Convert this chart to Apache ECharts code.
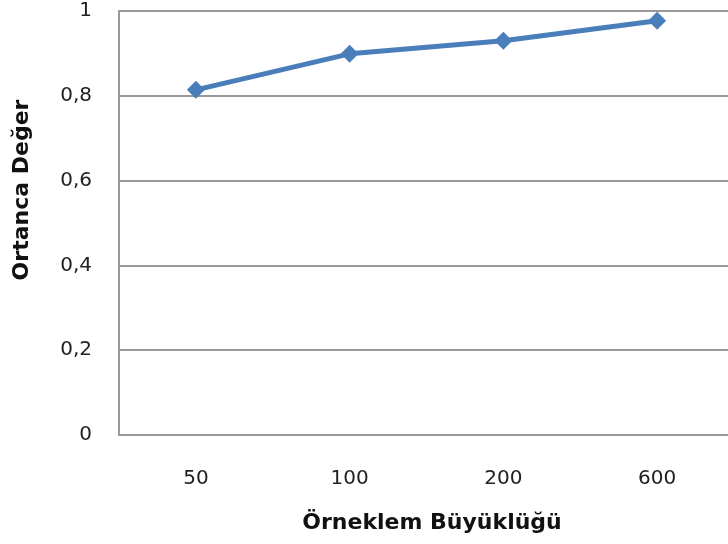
<!DOCTYPE html>
<html>
<head>
<meta charset="utf-8">
<script src="https://cdn.jsdelivr.net/npm/echarts@6/dist/echarts.min.js"></script>
<style>
  html, body { margin: 0; padding: 0; background: #fff; overflow: hidden; }
  #chart { width: 744px; height: 544px; }
</style>
</head>
<body>
<div id="chart"></div>
<script>
const sampleSizes = ["50", "100", "200", "600"];
const medianValues = [0.814, 0.899, 0.930, 0.977];

const myChart = echarts.init(document.getElementById('chart'));
const option = {
  animation: false,
  backgroundColor: '#fff',
  grid: {
    left: 119,
    top: 11,
    width: 615,
    height: 424,
    outerBoundsMode: 'none'
  },
  xAxis: {
    type: 'category',
    data: sampleSizes,
    name: 'Örneklem Büyüklüğü',
    nameLocation: 'middle',
    nameGap: 77,
    nameTextStyle: {
      fontFamily: 'DejaVu Sans',
      fontWeight: 'bold',
      fontSize: 22,
      color: '#111',
      padding: [0, 0, 0, 11]
    },
    axisLine: { show: false },
    axisTick: { show: false },
    axisLabel: {
      margin: 34,
      fontFamily: 'DejaVu Sans',
      fontSize: 20,
      color: '#222'
    },
    splitLine: { show: false },
    splitArea: { show: false }
  },
  yAxis: {
    type: 'value',
    min: 0,
    max: 1,
    interval: 0.2,
    name: 'Ortanca Değer',
    nameLocation: 'middle',
    nameGap: 86,
    nameTextStyle: {
      fontFamily: 'DejaVu Sans',
      fontWeight: 'bold',
      fontSize: 22,
      color: '#111',
      padding: [0, 0, 0, 66]
    },
    axisLine: { show: true, lineStyle: { color: '#999', width: 2 } },
    axisTick: { show: false },
    axisLabel: {
      margin: 27,
      fontFamily: 'DejaVu Sans',
      fontSize: 20,
      color: '#222',
      formatter: function (v) {
        return String(Math.round(v * 10) / 10).replace('.', ',');
      }
    },
    splitLine: { show: true, lineStyle: { color: '#999', width: 2 } }
  },
  series: [{
    type: 'line',
    data: medianValues,
    symbol: 'diamond',
    symbolSize: 18,
    lineStyle: { color: '#4a7ebb', width: 5 },
    itemStyle: { color: '#4a7ebb' }
  }]
};
myChart.setOption(option);
</script>
</body>
</html>
